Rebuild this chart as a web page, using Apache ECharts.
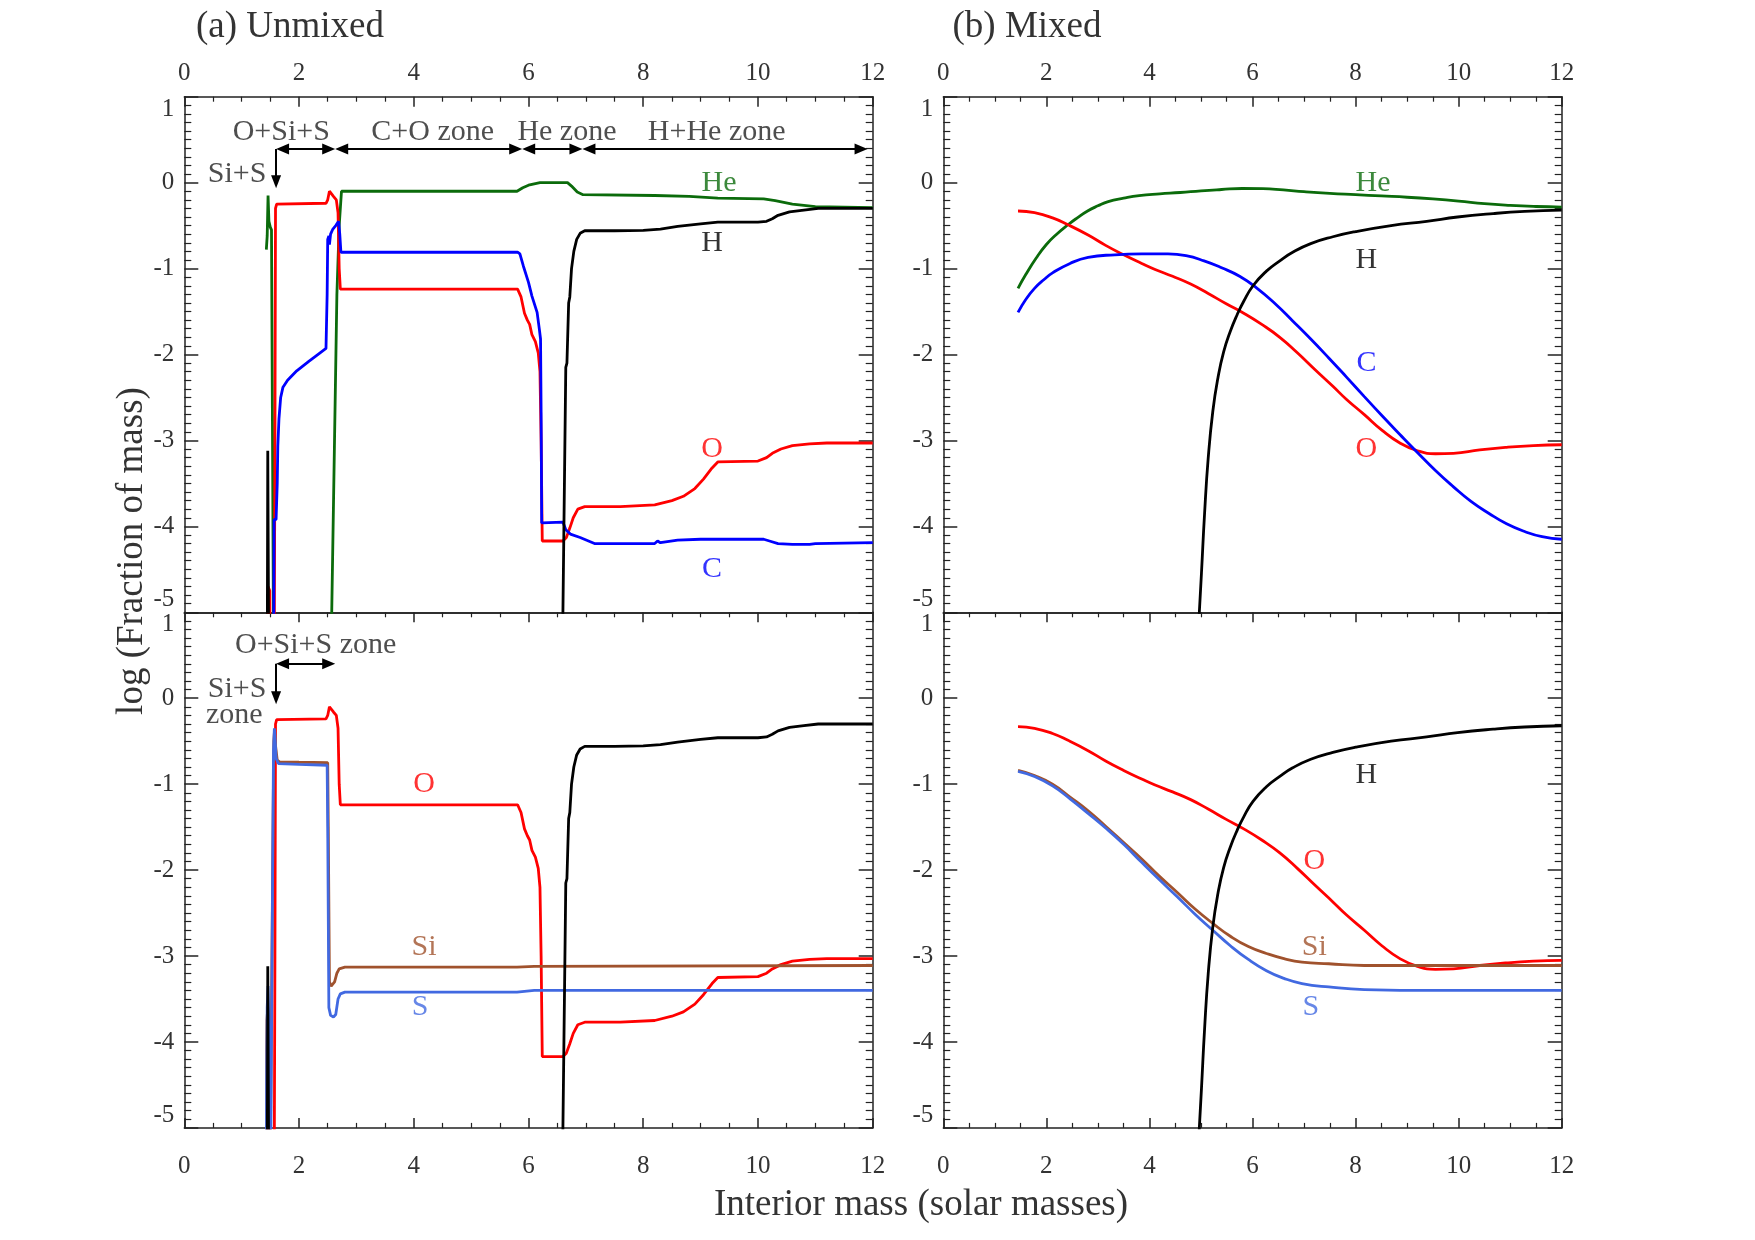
<!DOCTYPE html>
<html><head><meta charset="utf-8">
<script src="https://cdn.jsdelivr.net/npm/echarts@6/dist/echarts.min.js"></script>
<style>html,body{margin:0;padding:0;background:#fff}#c{width:1755px;height:1240px}</style>
</head><body><div id="c"></div>
<script>
// ---------------- DATA ----------------
// x ticks (interior mass) and y ticks (log fraction of mass)
const xTickValues = [0, 2, 4, 6, 8, 10, 12];
const yTickValues = [-5, -4, -3, -2, -1, 0, 1];

// (a) Unmixed : [interior mass, log fraction]
const unmixedH = [
  [1.445,-6],[1.455,-3.12],[1.47,-3.12],[1.475,-6],
  [6.58,-6],[6.6,-5],[6.65,-2.15],[6.67,-2.1],[6.7,-1.4],[6.72,-1.33],[6.75,-1.0],[6.79,-0.8],
  [6.84,-0.66],[6.9,-0.59],[6.98,-0.56],[7.5,-0.56],[8.0,-0.555],[8.3,-0.54],[8.6,-0.51],
  [9.0,-0.48],[9.3,-0.46],[10.0,-0.46],[10.15,-0.45],[10.25,-0.42],[10.35,-0.38],[10.55,-0.34],
  [10.8,-0.32],[11.05,-0.3],[12,-0.3]
];
const unmixedHe = [
  [1.43,-0.78],[1.445,-0.62],[1.46,-0.15],[1.475,-0.45],[1.5,-0.52],[1.52,-0.55],[1.56,-6],
  [2.55,-6],[2.57,-5],[2.66,-1.3],[2.7,-0.5],[2.74,-0.1],[5.8,-0.1],[5.9,-0.06],[6.0,-0.03],
  [6.2,0.0],[6.68,0.0],[6.75,-0.04],[6.85,-0.11],[6.95,-0.14],[8.2,-0.15],[8.8,-0.16],
  [9.3,-0.18],[10.1,-0.19],[10.3,-0.21],[10.6,-0.25],[11.0,-0.28],[12,-0.29]
];
const unmixedO = [
  [1.455,-6],[1.46,-4.7],[1.49,-4.75],[1.5,-6],
  [1.565,-6],[1.58,-3],[1.59,-0.3],[1.61,-0.25],[2.47,-0.24],[2.5,-0.2],[2.53,-0.1],[2.56,-0.08],
  [2.6,-0.16],[2.65,-0.2],[2.68,-0.35],[2.7,-1.0],[2.72,-1.24],[5.81,-1.24],[5.87,-1.33],
  [5.93,-1.52],[5.98,-1.6],[6.02,-1.65],[6.06,-1.77],[6.12,-1.85],[6.17,-1.98],[6.2,-2.2],
  [6.22,-3.0],[6.24,-4.17],[6.6,-4.17],[6.66,-4.13],[6.72,-4.02],[6.78,-3.9],[6.86,-3.8],
  [6.98,-3.77],[7.6,-3.77],[8.2,-3.75],[8.5,-3.7],[8.7,-3.65],[8.9,-3.56],[9.05,-3.45],
  [9.2,-3.32],[9.3,-3.25],[10.0,-3.24],[10.15,-3.2],[10.25,-3.15],[10.4,-3.1],[10.6,-3.06],
  [10.9,-3.04],[11.2,-3.03],[12,-3.03]
];
const unmixedC = [
  [1.555,-6],[1.565,-3.92],[1.6,-3.92],[1.62,-3.5],[1.63,-3.07],[1.65,-2.75],[1.68,-2.5],
  [1.72,-2.38],[1.8,-2.3],[1.96,-2.19],[2.17,-2.08],[2.35,-1.99],[2.47,-1.93],[2.49,-1.3],
  [2.5,-0.66],[2.52,-0.62],[2.53,-0.72],[2.55,-0.6],[2.59,-0.54],[2.64,-0.5],[2.69,-0.45],
  [2.71,-0.6],[2.73,-0.81],[5.81,-0.81],[5.85,-0.83],[5.91,-0.97],[6.0,-1.16],[6.06,-1.32],
  [6.15,-1.51],[6.19,-1.71],[6.21,-1.82],[6.22,-2.68],[6.23,-3.96],[6.6,-3.95],[6.65,-4.04],
  [6.73,-4.09],[6.9,-4.13],[7.15,-4.2],[8.2,-4.2],[8.25,-4.17],[8.3,-4.19],[8.6,-4.16],
  [9.0,-4.15],[10.1,-4.15],[10.2,-4.17],[10.35,-4.2],[10.6,-4.21],[10.9,-4.21],[11.0,-4.2],[12,-4.19]
];
const unmixedSi = [
  [1.43,-6],[1.435,-4.1],[1.44,-3.75],[1.455,-3.6],[1.47,-4.0],[1.49,-6],
  [1.52,-6],[1.54,-2],[1.56,-0.5],[1.575,-0.36],[1.59,-0.55],[1.62,-0.72],[1.66,-0.74],
  [2.0,-0.745],[2.5,-0.75],[2.51,-1.5],[2.53,-3.3],[2.56,-3.35],[2.62,-3.3],[2.66,-3.2],
  [2.7,-3.15],[2.8,-3.13],[5.8,-3.13],[6.1,-3.12],[12,-3.11]
];
const unmixedS = [
  [1.43,-6],[1.435,-4.5],[1.445,-3.6],[1.46,-3.35],[1.475,-3.9],[1.49,-4.4],[1.5,-6],
  [1.52,-6],[1.54,-2],[1.555,-0.6],[1.57,-0.35],[1.585,-0.5],[1.6,-0.7],[1.64,-0.76],
  [2.0,-0.77],[2.49,-0.78],[2.5,-1.5],[2.52,-3.6],[2.55,-3.69],[2.6,-3.71],[2.64,-3.68],
  [2.68,-3.5],[2.72,-3.44],[2.8,-3.42],[5.8,-3.42],[6.1,-3.4],[12,-3.4]
];

// (b) Mixed
const mixedH = [
  [4.95,-5.2],[5.01,-4.54],[5.07,-3.85],[5.14,-3.21],[5.23,-2.66],[5.33,-2.27],[5.44,-1.97],
  [5.57,-1.73],[5.7,-1.54],[5.83,-1.38],[6.01,-1.2],[6.27,-1.03],[6.53,-0.91],[6.78,-0.81],
  [7.13,-0.71],[7.56,-0.63],[8.0,-0.57],[8.69,-0.5],[9.38,-0.45],[9.98,-0.4],[10.67,-0.36],
  [11.28,-0.335],[12,-0.32]
];
const mixedHe = [
  [1.45,-1.23],[1.6,-1.07],[1.8,-0.88],[2.0,-0.72],[2.2,-0.6],[2.42,-0.49],[2.6,-0.41],
  [2.8,-0.33],[3.0,-0.27],[3.2,-0.22],[3.5,-0.18],[3.8,-0.15],[4.2,-0.13],[4.6,-0.115],
  [5.0,-0.095],[5.4,-0.08],[5.8,-0.068],[6.2,-0.07],[6.6,-0.085],[7.0,-0.105],[7.5,-0.125],
  [8.0,-0.14],[8.5,-0.155],[9.0,-0.17],[9.5,-0.19],[10.0,-0.215],[10.5,-0.245],[11.0,-0.265],
  [11.5,-0.278],[12,-0.285]
];
const mixedO = [
  [1.45,-0.33],[1.77,-0.35],[2.12,-0.41],[2.42,-0.49],[2.81,-0.61],[3.15,-0.73],[3.5,-0.84],
  [3.85,-0.94],[4.11,-1.01],[4.45,-1.09],[4.8,-1.18],[5.14,-1.29],[5.49,-1.41],[5.83,-1.52],
  [6.18,-1.65],[6.53,-1.8],[6.87,-1.98],[7.22,-2.18],[7.56,-2.37],[7.82,-2.52],[8.17,-2.7],
  [8.51,-2.88],[8.86,-3.03],[9.2,-3.12],[9.55,-3.155],[9.9,-3.15],[10.41,-3.11],[10.93,-3.08],
  [11.45,-3.06],[12,-3.05]
];
const mixedC = [
  [1.45,-1.51],[1.6,-1.36],[1.77,-1.23],[1.95,-1.13],[2.12,-1.05],[2.46,-0.94],[2.81,-0.87],
  [3.33,-0.84],[3.85,-0.83],[4.36,-0.83],[4.71,-0.85],[5.06,-0.91],[5.4,-0.99],[5.75,-1.09],
  [6.09,-1.23],[6.44,-1.41],[6.78,-1.61],[7.13,-1.82],[7.48,-2.04],[7.82,-2.26],[8.17,-2.49],
  [8.51,-2.71],[8.86,-2.93],[9.2,-3.14],[9.55,-3.35],[9.9,-3.54],[10.24,-3.71],[10.59,-3.85],
  [10.93,-3.97],[11.28,-4.06],[11.62,-4.12],[12,-4.15]
];
const mixedSi = [
  [1.45,-0.84],[1.77,-0.9],[2.12,-1.0],[2.46,-1.15],[2.81,-1.31],[3.15,-1.49],[3.5,-1.68],
  [3.85,-1.87],[4.19,-2.07],[4.54,-2.26],[4.88,-2.45],[5.23,-2.62],[5.57,-2.77],[5.92,-2.89],
  [6.27,-2.97],[6.61,-3.03],[6.96,-3.07],[7.48,-3.09],[8.17,-3.11],[9.55,-3.11],[12,-3.11]
];
const mixedS = [
  [1.45,-0.85],[1.77,-0.91],[2.12,-1.02],[2.46,-1.17],[2.81,-1.34],[3.15,-1.51],[3.5,-1.7],
  [3.85,-1.91],[4.19,-2.11],[4.54,-2.31],[4.88,-2.51],[5.23,-2.7],[5.57,-2.88],[5.92,-3.04],
  [6.27,-3.17],[6.61,-3.26],[6.96,-3.32],[7.48,-3.36],[8.17,-3.39],[9.55,-3.4],[12,-3.4]
];

// zone boundaries (interior mass)
const zoneBounds = [1.6, 2.63, 5.89, 6.94, 11.91];

// ---------------- STYLE / LAYOUT ----------------
const FONT = '"Liberation Serif","Times New Roman",serif';
const AX = '#222';
const TXT = '#333';
const COL = {H:'#000000', He:'#0b6b0b', O:'#ff0000', C:'#0000ff', Si:'#a0522d', S:'#4169e1'};
const G = {
  lx: 184.3, lw: 688.4, rx: 943.3, rw: 618.4,
  ty: 96.7, h: 515.6, by: 612.3
};
const grids = [
  {left:G.lx, top:G.ty, width:G.lw, height:G.h},
  {left:G.rx, top:G.ty, width:G.rw, height:G.h},
  {left:G.lx, top:G.by, width:G.lw, height:G.h},
  {left:G.rx, top:G.by, width:G.rw, height:G.h}
];
const xMin = xTickValues[0], xMax = xTickValues[xTickValues.length-1], xStep = xTickValues[1]-xTickValues[0];
const yMin = yTickValues[0], yMax = yTickValues[yTickValues.length-1], yStep = yTickValues[1]-yTickValues[0];

function xAx(g, pos, labels, ticks){
  return {type:'value', gridIndex:g, position:pos, min:xMin, max:xMax, interval:xStep,
    axisLine:{show:true, onZero:false, lineStyle:{color:AX, width:1.5}},
    axisTick:{show:ticks, inside:true, length:10, lineStyle:{color:AX, width:1.5}},
    minorTick:{show:ticks, splitNumber:4, length:5, lineStyle:{color:AX, width:1.2}},
    axisLabel:{show:labels, margin: pos==='top'?11:26, color:TXT, fontSize:25, fontFamily:FONT},
    splitLine:{show:false}, minorSplitLine:{show:false}};
}
function yAx(g, pos, labels){
  return {type:'value', gridIndex:g, position:pos, min:yMin, max:yMax, interval:yStep,
    axisLine:{show:true, onZero:false, lineStyle:{color:AX, width:1.5}},
    axisTick:{show:true, inside:true, length:14, lineStyle:{color:AX, width:1.5}},
    minorTick:{show:true, splitNumber:10, length:7, lineStyle:{color:AX, width:1.2}},
    axisLabel:{show:labels, margin:10, color:TXT, fontSize:25, fontFamily:FONT,
      verticalAlignMinLabel:'bottom', verticalAlignMaxLabel:'top'},
    splitLine:{show:false}, minorSplitLine:{show:false}};
}
const xAxes = [
  xAx(0,'top',true,true), xAx(0,'bottom',false,false),
  xAx(1,'top',true,true), xAx(1,'bottom',false,false),
  xAx(2,'bottom',true,true), xAx(2,'top',false,true),
  xAx(3,'bottom',true,true), xAx(3,'top',false,true)
];
const yAxes = [];
for (let g=0; g<4; g++){ yAxes.push(yAx(g,'left',true)); yAxes.push(yAx(g,'right',false)); }

function line(data, g, color, smooth){
  return {type:'line', data, xAxisIndex:2*g, yAxisIndex:2*g, symbol:'none', showSymbol:false,
    lineStyle:{color, width:2.8}, smooth: smooth ? 0.5 : false,
    clip:true, silent:true, animation:false, z:3};
}

// annotation anchors (data coordinates)
const labelsTL = [
  {t:'He', x:9.32, y:0.0, c:COL.He}, {t:'H', x:9.2, y:-0.7, c:COL.H},
  {t:'O', x:9.2, y:-3.1, c:COL.O}, {t:'C', x:9.2, y:-4.5, c:COL.C},
  {t:'O+Si+S', x:1.69, y:0.59, c:'#222'}, {t:'C+O zone', x:4.33, y:0.59, c:'#222'},
  {t:'He zone', x:6.67, y:0.59, c:'#222'}, {t:'H+He zone', x:9.28, y:0.59, c:'#222'},
  {t:'Si+S', x:0.92, y:0.1, c:'#222'}
];
const labelsTR = [
  {t:'He', x:8.34, y:0.0, c:COL.He}, {t:'H', x:8.21, y:-0.9, c:COL.H},
  {t:'C', x:8.21, y:-2.1, c:COL.C}, {t:'O', x:8.21, y:-3.1, c:COL.O}
];
const labelsBL = [
  {t:'O', x:4.18, y:-1.0, c:COL.O}, {t:'Si', x:4.18, y:-2.9, c:COL.Si}, {t:'S', x:4.11, y:-3.6, c:COL.S},
  {t:'O+Si+S zone', x:2.29, y:0.62, c:'#222'}, {t:'Si+S', x:0.92, y:0.11, c:'#222'},
  {t:'zone', x:0.87, y:-0.2, c:'#222'}
];
const labelsBR = [
  {t:'H', x:8.21, y:-0.9, c:COL.H}, {t:'O', x:7.2, y:-1.9, c:COL.O},
  {t:'Si', x:7.2, y:-2.9, c:COL.Si}, {t:'S', x:7.13, y:-3.6, c:COL.S}
];

const AH = 0.113; // half arrow-head length in data units
function seg(a, b, y){ return [{coord:[a+AH, y]}, {coord:[b-AH, y]}]; }
function down(x, y0, y1){ return [{coord:[x, y0], symbol:'none'}, {coord:[x, y1+AH*0.67], symbol:'triangle', symbolSize:[10,13]}]; }
const arrowsTL = [];
for (let i=0;i<zoneBounds.length-1;i++) arrowsTL.push(seg(zoneBounds[i], zoneBounds[i+1], 0.39));
arrowsTL.push(down(zoneBounds[0], 0.39, -0.065));
const arrowsBL = [seg(zoneBounds[0], zoneBounds[1], 0.4), down(zoneBounds[0], 0.4, -0.07)];

function textSeries(g, items, arrows){
  const s = {type:'scatter', xAxisIndex:2*g, yAxisIndex:2*g, symbol:'circle', symbolSize:1,
    itemStyle:{color:'rgba(0,0,0,0)'}, silent:true, animation:false, z:5, clip:false,
    data: items.map(it => ({value:[it.x, it.y], label:{show:true, formatter:it.t, color:it.c,
      fontSize:30, fontFamily:FONT, position:'inside', align:'center', verticalAlign:'middle'}}))};
  if (arrows) s.markLine = {silent:true, animation:false, symbol:['triangle','triangle'], symbolSize:[11,13],
    label:{show:false}, lineStyle:{color:'#000', width:2, type:'solid'}, emphasis:{disabled:true}, data:arrows};
  return s;
}

const series = [
  line(unmixedHe,0,COL.He), line(unmixedO,0,COL.O), line(unmixedC,0,COL.C), line(unmixedH,0,COL.H),
  line(mixedHe,1,COL.He,true), line(mixedO,1,COL.O,true), line(mixedC,1,COL.C,true), line(mixedH,1,COL.H,true),
  line(unmixedO,2,COL.O), line(unmixedSi,2,COL.Si), line(unmixedS,2,COL.S), line(unmixedH,2,COL.H),
  line(mixedO,3,COL.O,true), line(mixedSi,3,COL.Si,true), line(mixedS,3,COL.S,true), line(mixedH,3,COL.H,true),
  textSeries(0, labelsTL, arrowsTL), textSeries(1, labelsTR), textSeries(2, labelsBL, arrowsBL), textSeries(3, labelsBR)
];

function gtext(text, x, y, align, rot){
  return {type:'text', x, y, rotation: rot||0, silent:true,
    style:{text, fill:TXT, font:'37px '+FONT, align:align, verticalAlign:'middle',
      textAlign:align, textVerticalAlign:'middle'}};
}

const chart = echarts.init(document.getElementById('c'), null, {renderer:'canvas'});
chart.setOption({
  animation:false, backgroundColor:'#fff', textStyle:{fontFamily:FONT},
  grid:grids, xAxis:xAxes, yAxis:yAxes, series,
  graphic:[
    gtext('(a) Unmixed', 196, 27, 'left'),
    gtext('(b) Mixed', 952.5, 27, 'left'),
    gtext('Interior mass (solar masses)', 921, 1205, 'center'),
    gtext('log (Fraction of mass)', 132, 551, 'center', Math.PI/2)
  ]
});
</script></body></html>
